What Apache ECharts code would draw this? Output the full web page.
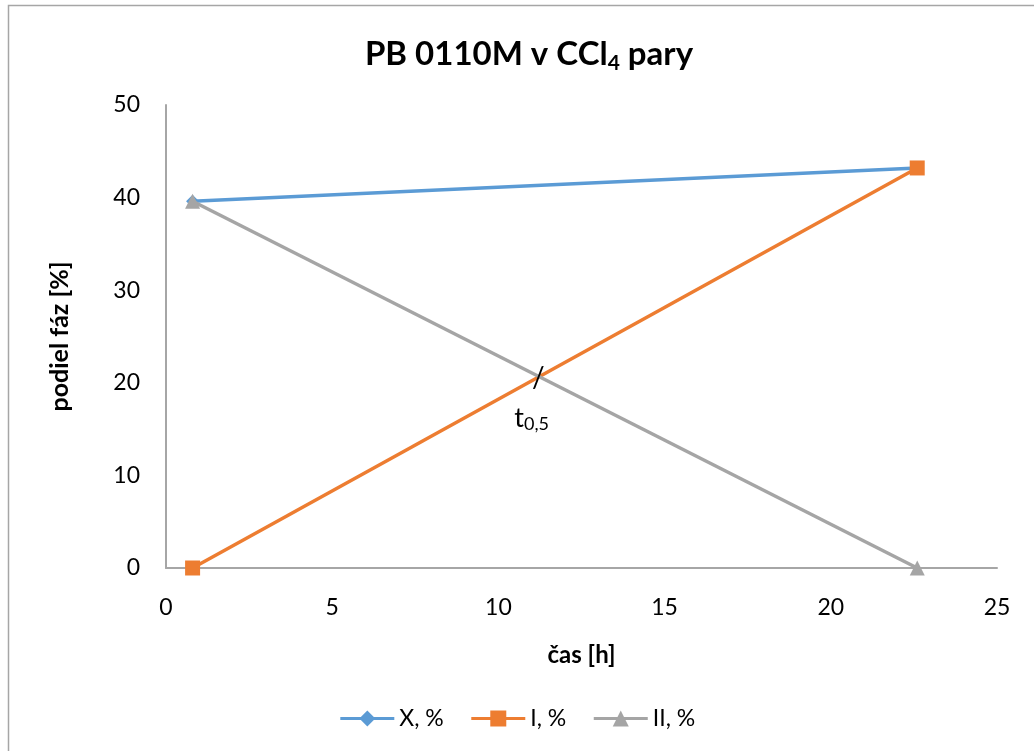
<!DOCTYPE html>
<html>
<head>
<meta charset="utf-8">
<script src="https://cdn.jsdelivr.net/npm/echarts@6/dist/echarts.min.js"></script>
<style>
  html, body { margin: 0; padding: 0; background: #fff; }
  #chart { width: 1034px; height: 751px; }
</style>
</head>
<body>
<div id="chart"></div>
<script>
// Time points [h] and phase fractions [%]
const times = [0.8, 22.6];
const seriesNames = ['X, %', 'I, %', 'II, %'];
const xValues = [39.6, 43.2];
const iValues = [0, 43.2];
const iiValues = [39.6, 0];
const xTicks = [0, 5, 10, 15, 20, 25];
const yTicks = [0, 10, 20, 30, 40, 50];
// Half-time marker position (data coordinates)
const halfTime = [11.2, 20.5];
const halfTimeLabel = [11.0, 16.2];

const FONT = 'Lato, "Open Sans", sans-serif';
const colors = ['#5b9bd5', '#ed7d31', '#a5a5a5'];
const symbols = ['diamond', 'rect', 'triangle'];
const symbolSizes = [13, 15, 15];

function pairs(vals) { return times.map((t, i) => [t, vals[i]]); }
const allValues = [xValues, iValues, iiValues];

const chart = echarts.init(document.getElementById('chart'));

const option = {
  animation: false,
  backgroundColor: '#fff',
  title: {
    text: '{b|PB 0110M v CCl}{s|4}{b| pary}',
    left: 524,
    textAlign: 'center',
    top: 30,
    textStyle: {
      rich: {
        b: { fontFamily: FONT, fontWeight: 'bold', fontSize: 33, color: '#000' },
        s: { fontFamily: FONT, fontWeight: 'bold', fontSize: 21, color: '#000', padding: [18, 0, 0, 0] }
      }
    }
  },
  legend: {
    data: seriesNames,
    bottom: 16,
    left: 'center',
    itemWidth: 54,
    itemHeight: 20,
    itemGap: 26,
    lineStyle: { width: 3 },
    textStyle: { fontFamily: FONT, fontSize: 23, color: '#000' }
  },
  grid: { left: 166, right: 37, top: 105, bottom: 183 },
  xAxis: {
    type: 'value',
    min: 0, max: 25, interval: 5,
    name: 'čas [h]',
    nameLocation: 'middle',
    nameGap: 75,
    nameTextStyle: { fontFamily: FONT, fontWeight: 'bold', fontSize: 24, color: '#000' },
    axisLine: { lineStyle: { color: '#a6a6a6', width: 2 } },
    axisTick: { show: false },
    splitLine: { show: false },
    axisLabel: {
      fontFamily: FONT, fontSize: 23, color: '#000', margin: 28,
      formatter: v => xTicks.includes(v) ? String(v) : ''
    }
  },
  yAxis: {
    type: 'value',
    min: 0, max: 50, interval: 10,
    name: 'podiel fáz [%]',
    nameLocation: 'middle',
    nameGap: 94,
    nameRotate: 90,
    nameTextStyle: { fontFamily: FONT, fontWeight: 'bold', fontSize: 25, color: '#000' },
    axisLine: { show: true, lineStyle: { color: '#a6a6a6', width: 2 } },
    axisTick: { show: false },
    splitLine: { show: false },
    axisLabel: {
      fontFamily: FONT, fontSize: 23, color: '#000', margin: 26,
      formatter: v => yTicks.includes(v) ? String(v) : ''
    }
  },
  series: seriesNames.map((name, k) => ({
    name,
    type: 'line',
    data: pairs(allValues[k]),
    symbol: symbols[k],
    symbolSize: symbolSizes[k],
    showAllSymbol: true,
    lineStyle: { color: colors[k], width: 3.5 },
    itemStyle: { color: colors[k] },
    z: 2 + k
  }))
};
chart.setOption(option);

// Half-time annotation drawn at data positions
const p1 = chart.convertToPixel({ gridIndex: 0 }, halfTime);
const p2 = chart.convertToPixel({ gridIndex: 0 }, halfTimeLabel);
chart.setOption({
  graphic: [
    {
      type: 'text', x: p1[0], y: p1[1], z: 10,
      style: { text: '/', fontFamily: FONT, fontSize: 28, fill: '#000', align: 'center', verticalAlign: 'middle' }
    },
    {
      type: 'text', x: p2[0], y: p2[1], z: 10,
      style: {
        text: '{t|t}{s|0,5}',
        align: 'center', verticalAlign: 'middle',
        rich: {
          t: { fontFamily: FONT, fontSize: 27, fill: '#000', color: '#000' },
          s: { fontFamily: FONT, fontSize: 18, fill: '#000', color: '#000', padding: [12, 0, 0, 0] }
        }
      }
    },
    {
      type: 'rect', z: -1, silent: true,
      shape: { x: 8.5, y: 5.5, width: 1100, height: 800 },
      style: { fill: 'none', stroke: '#a6a6a6', lineWidth: 1.5 }
    }
  ]
});
</script>
</body>
</html>
